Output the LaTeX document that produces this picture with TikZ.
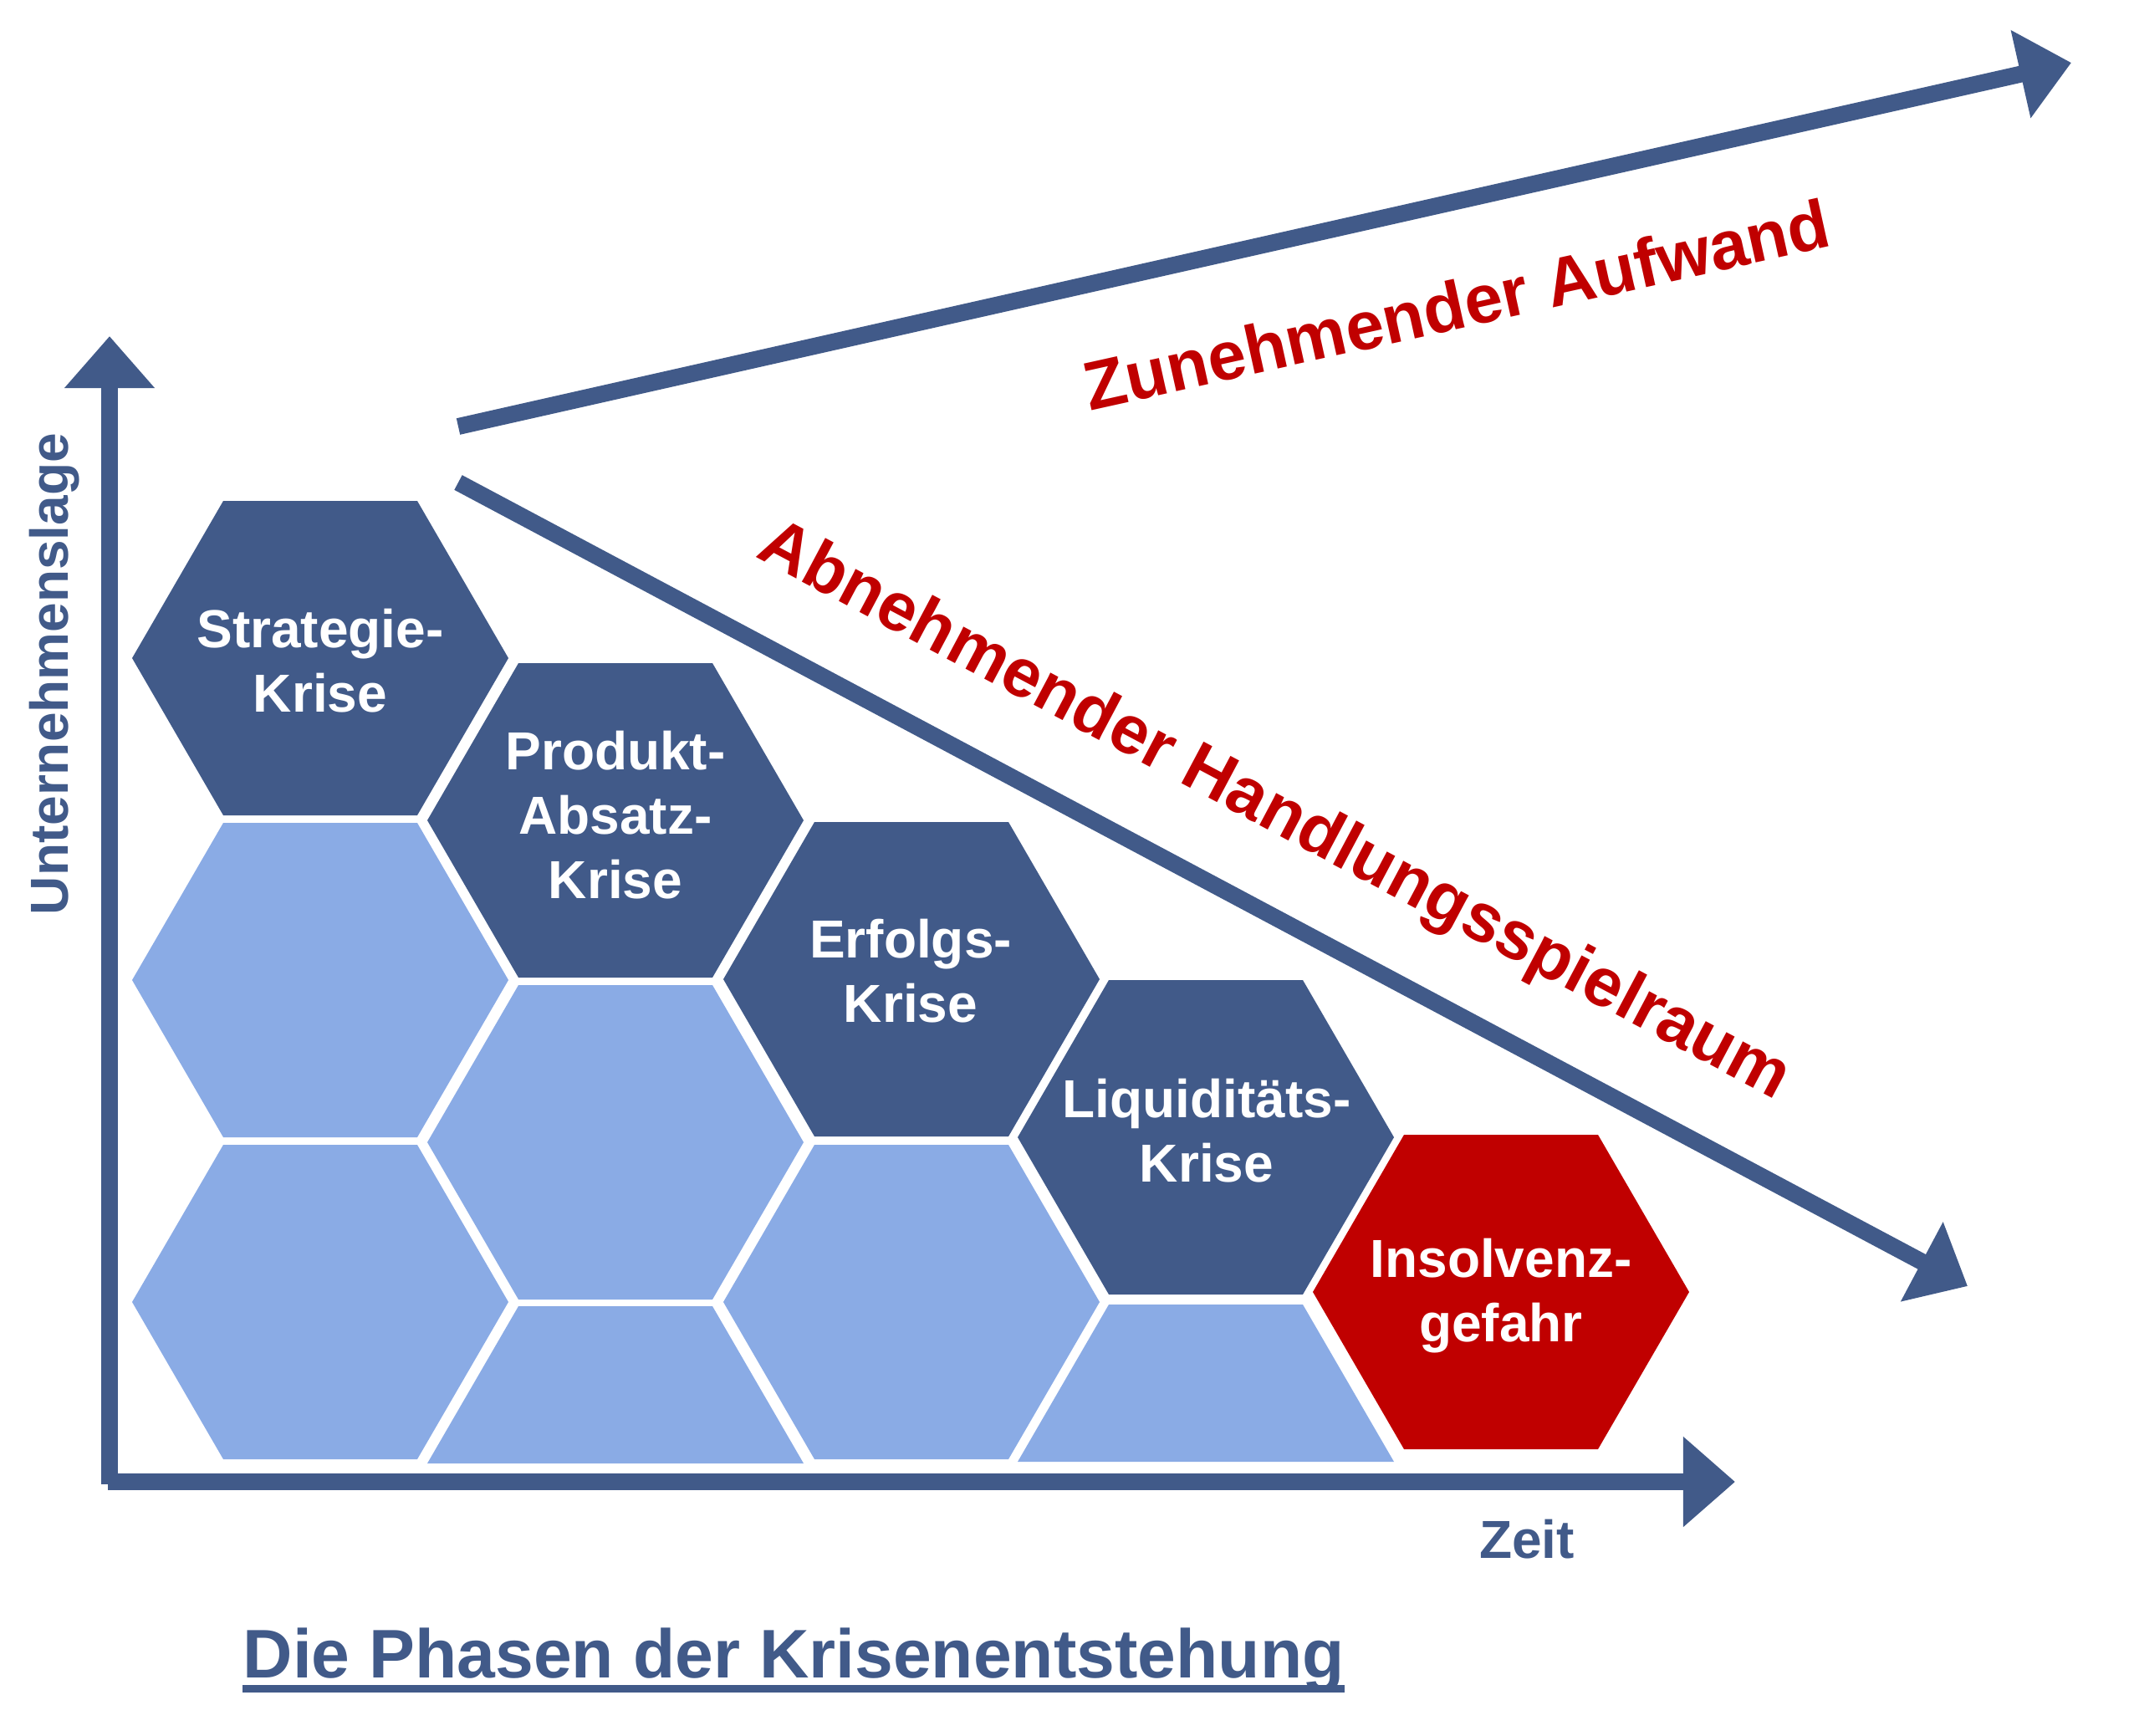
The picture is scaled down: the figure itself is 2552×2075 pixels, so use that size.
\documentclass[tikz,border=0pt]{standalone}
\usepackage{fontspec}
\setmainfont{Liberation Sans}
\usetikzlibrary{arrows.meta}
\definecolor{krisenblau}{RGB}{65,90,137}
\definecolor{hellblau}{RGB}{138,171,229}
\definecolor{krisenrot}{RGB}{192,0,0}
\tikzset{
  pics/wabe/.style={code={\fill[#1] (-225,0) -- (-116,-188) -- (116,-188) -- (225,0) -- (116,188) -- (-116,188) -- cycle;}},
  pics/halbwabe/.style={code={\fill[#1] (-225,0) -- (-116,-188) -- (116,-188) -- (225,0) -- cycle;}}
}
\begin{document}
\begin{tikzpicture}[x=0.01cm,y=-0.01cm,
  pfeil/.style={krisenblau,line width=0.2cm,-{Triangle[length=0.62cm,width=1.04cm]}},
  phase/.style={text=white,align=center,inner sep=0pt,font=\bfseries\fontsize{18.2}{21.9}\selectfont},
  schrift/.style={text=krisenblau,inner sep=0pt,font=\bfseries\fontsize{18.2}{21.9}\selectfont},
  trend/.style={text=krisenrot,inner sep=0pt,font=\bfseries\fontsize{23.3}{28}\selectfont}]
\useasboundingbox (0,0) rectangle (2552,2075);

% Waben
\pic at (383,787) {wabe=krisenblau};
\pic at (383,1172) {wabe=hellblau};
\pic at (383,1557) {wabe=hellblau};
\pic at (736,981) {wabe=krisenblau};
\pic at (736,1366) {wabe=hellblau};
\pic at (736,1750) {halbwabe=hellblau};
\pic at (1090,1171) {wabe=krisenblau};
\pic at (1090,1557) {wabe=hellblau};
\pic at (1442,1360) {wabe=krisenblau};
\pic at (1442,1748) {halbwabe=hellblau};
\pic at (1795,1545) {wabe=krisenrot};

\node (strategie) at (383,790) [phase] {Strategie-\\Krise};
\node (produkt) at (736,975) [phase] {Produkt-\\Absatz-\\Krise};
\node (erfolg) at (1089,1161) [phase] {Erfolgs-\\Krise};
\node (liquid) at (1443,1352) [phase] {Liquiditäts-\\Krise};
\node (insolvenz) at (1795,1550) [phase] {Insolvenz-\\gefahr};

% Achsen und Trends
\coordinate (ursprung) at (131,1775);
\coordinate (yspitze) at (131,402);
\coordinate (xanfang) at (129,1772);
\coordinate (xspitze) at (2075,1772);
\coordinate (aufstart) at (548,510);
\coordinate (aufspitze) at (2477,75);
\coordinate (abstart) at (548,577);
\coordinate (abspitze) at (2353,1538);
\draw [pfeil] (ursprung) -- (yspitze);
\draw [pfeil] (xanfang) -- (xspitze);
\draw [pfeil] (aufstart) -- (aufspitze);
\draw [pfeil] (abstart) -- (abspitze);

\node (lage) at (65,806) [schrift,rotate=90] {Unternehmenslage};
\node (zeit) at (1826,1841) [schrift] {Zeit};
\node (aufwand) at (1742,364) [trend,rotate=12.5] {Zunehmender Aufwand};
\node (spielraum) at (1523,972) [trend,rotate=-28] {Abnehmender Handlungsspielraum};

\node (titel) at (290,2006) [anchor=base west,text=krisenblau,inner sep=0pt,font=\bfseries\fontsize{23.4}{28}\selectfont] {Die Phasen der Krisenentstehung};
\draw [krisenblau,line width=0.095cm] ([yshift=-0.135cm]titel.base west) -- ([yshift=-0.135cm]titel.base east);
\end{tikzpicture}
\end{document}
